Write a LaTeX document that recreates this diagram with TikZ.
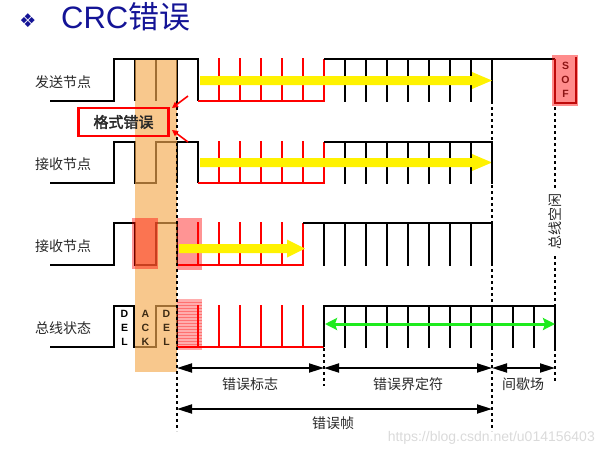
\documentclass[tikz,border=0pt]{standalone}
\usepackage{fontspec}
\setmainfont{Liberation Sans}
\newfontfamily\cjk{Noto Sans CJK SC}
\newfontfamily\cjkb[FakeBold=2.5]{Noto Sans CJK SC}
\newfontfamily\dejavu{DejaVu Sans}
\usetikzlibrary{arrows.meta}
\definecolor{titleblue}{RGB}{20,20,150}
\definecolor{barorange}{RGB}{245,170,80}
\definecolor{sofred}{RGB}{140,20,20}
\definecolor{wmgray}{RGB}{218,218,218}
\definecolor{lgreen}{RGB}{30,235,30}
\definecolor{lblgray}{RGB}{40,40,40}
\tikzset{
  wave/.style={black, line width=2.2pt},
  redwave/.style={red, line width=1.8pt},
  sofwave/.style={sofred, line width=2.2pt},
  dotv/.style={black, line width=2.2pt, dash pattern=on 3pt off 3pt},
  dimarrow/.style={black, line width=1.8pt, {Triangle[length=15pt,width=9pt]}-{Triangle[length=15pt,width=9pt]}},
  lbl/.style={font=\cjk\fontsize{14}{16}\selectfont, text=lblgray, inner sep=0pt},
  letters/.style={font=\bfseries\fontsize{10.5}{14}\selectfont, align=center, inner sep=0pt},
  yarrow/.style={fill=yellow, draw=none},
  hilite/.style={fill=red, fill opacity=0.42, draw=none},
  redarrow/.style={red, line width=1.6pt, -{Triangle[length=6pt,width=6pt]}}
}
\begin{document}
\begin{tikzpicture}[x=1pt,y=-1pt]
\useasboundingbox (0,0) rectangle (604,456);
% title
\node[font=\dejavu\fontsize{19}{21}\selectfont, text=titleblue, inner sep=0pt] (bullet) at (28,20.5) {❖};
\node[anchor=base west, font=\fontsize{31}{34}\selectfont, text=titleblue, inner sep=0pt] (title) at (61,28) {CRC{\cjk 错误}};
% ---------- row 1: sender
\draw[wave] (50,101) -- (114,101) -- (114,59) -- (198,59) -- (198,101);
\foreach \x in {135,156,177} \draw[wave] (\x,59) -- (\x,101);
\draw[redwave] (198,101) -- (324,101) -- (324,59);
\foreach \x in {219,240,261,282,303} \draw[redwave] (\x,58) -- (\x,101);
\draw[wave] (324,59) -- (555,59);
\foreach \x in {345,366,...,492} \draw[wave] (\x,59) -- (\x,102);
\draw[sofwave] (555,59) -- (555,103) -- (576,103) -- (576,57);
% ---------- row 2: receiver
\draw[wave] (50,183) -- (114,183) -- (114,142) -- (135,142) -- (135,183) -- (156,183) -- (156,142) -- (198,142) -- (198,183);
\draw[wave] (177,142) -- (177,183);
\draw[redwave] (198,183) -- (324,183) -- (324,142);
\foreach \x in {219,240,261,282,303} \draw[redwave] (\x,141) -- (\x,183);
\draw[wave] (324,142) -- (492,142) -- (492,184);
\foreach \x in {345,366,...,471} \draw[wave] (\x,142) -- (\x,184);
% ---------- row 3: receiver
\draw[wave] (50,265) -- (114,265) -- (114,223) -- (135,223) -- (135,265) -- (156,265) -- (156,223) -- (177,223) -- (177,265);
\draw[redwave] (177,265) -- (303,265) -- (303,223);
\foreach \x in {198,219,240,261,282} \draw[redwave] (\x,222) -- (\x,265);
\draw[wave] (303,223) -- (492,223) -- (492,266);
\foreach \x in {324,345,...,471} \draw[wave] (\x,223) -- (\x,266);
% ---------- row 4: bus
\draw[wave] (50,347) -- (114,347) -- (114,306) -- (134,306) -- (134,347) -- (156,347) -- (156,306) -- (177,306) -- (177,347);
\draw[redwave] (177,347) -- (324,347);
\foreach \x in {198,219,240,261,282,303} \draw[redwave] (\x,305) -- (\x,347);
\draw[wave] (324,347) -- (324,306) -- (555,306) -- (555,348);
\foreach \x in {345,366,...,534} \draw[wave] (\x,306) -- (\x,348);
% ---------- orange ACK bar
\fill[barorange, fill opacity=0.65] (135,60) rectangle (177,372);
% ---------- red highlights
\fill[hilite] (132,218) rectangle (158,269);
\fill[hilite] (177,218) rectangle (202,270);
\fill[red, fill opacity=0.32] (177,299) rectangle (202,350);
\foreach \y in {302,305,...,347} \draw[red, opacity=0.35, line width=0.6pt] (177,\y) -- (202,\y);
\fill[red, fill opacity=0.45] (552,55) rectangle (578,106);
% ---------- yellow arrows
\fill[yarrow] (200,76) -- (472,76) -- (472,72) -- (492,80.5) -- (472,89) -- (472,85) -- (200,85) -- cycle;
\fill[yarrow] (200,158) -- (472,158) -- (472,154) -- (492,162.5) -- (472,171) -- (472,167) -- (200,167) -- cycle;
\fill[yarrow] (179,244) -- (287,244) -- (287,239.5) -- (305,248.5) -- (287,257.5) -- (287,253) -- (179,253) -- cycle;
% ---------- letters in bits
\node[letters] (del1) at (124.5,328) {D\\E\\L};
\node[letters, text=black!75!barorange] (ack) at (145.5,328) {A\\C\\K};
\node[letters, text=black!75!barorange] (del2) at (166.5,328) {D\\E\\L};
\node[letters, text=sofred] (sof) at (565.5,80) {S\\O\\F};
% ---------- dotted verticals
\draw[dotv] (177,101) -- (177,431);
\draw[dotv] (492,101) -- (492,431);
\draw[dotv] (324,348) -- (324,386);
\draw[dotv] (555,107) -- (555,188);
\draw[dotv] (555,256) -- (555,306);
\draw[dotv] (555,348) -- (555,381);
\node[lbl, rotate=90] (idle) at (555,221) {总线空闲};
% ---------- row labels
\node[lbl] (sender) at (63,82) {发送节点};
\node[lbl] (recv1) at (63,164) {接收节点};
\node[lbl] (recv2) at (63,246) {接收节点};
\node[lbl] (bus) at (63,328) {总线状态};
% ---------- format error box
\node[draw=red, line width=2.4pt, minimum width=90pt, minimum height=28pt, inner sep=0pt,
      font=\cjkb\fontsize{15}{17}\selectfont, text=lblgray] (fmt) at (123.5,122) {格式错误};
\coordinate (a1s) at (188,96);
\coordinate (a1e) at (172,108);
\coordinate (a2s) at (188,142);
\coordinate (a2e) at (172,130);
\draw[redarrow] (a1s) -- (a1e);
\draw[redarrow] (a2s) -- (a2e);
% ---------- green double arrow
\coordinate (g1) at (325,324);
\coordinate (g2) at (555,324);
\draw[lgreen, line width=3pt, {Stealth[length=12pt,width=12pt,inset=2pt]}-{Stealth[length=12pt,width=12pt,inset=2pt]}] (g1) -- (g2);
% ---------- dimension arrows
\coordinate (d0) at (177,368);
\coordinate (d1) at (324,368);
\coordinate (d2) at (492,368);
\coordinate (d3) at (555,368);
\coordinate (f0) at (177,409);
\coordinate (f1) at (492,409);
\draw[dimarrow] (d0) -- (d1);
\draw[dimarrow] (d1) -- (d2);
\draw[dimarrow] (d2) -- (d3);
\draw[dimarrow] (f0) -- (f1);
\node[lbl] (flag) at (250,384) {错误标志};
\node[lbl] (delim) at (408,384) {错误界定符};
\node[lbl] (ifs) at (523,384) {间歇场};
\node[lbl] (frame) at (333,423) {错误帧};
% ---------- watermark
\node[anchor=east, font=\fontsize{14}{16}\selectfont, text=wmgray, inner sep=0pt] (wm) at (595,438) {https://blog.csdn.net/u014156403};
\end{tikzpicture}
\end{document}
